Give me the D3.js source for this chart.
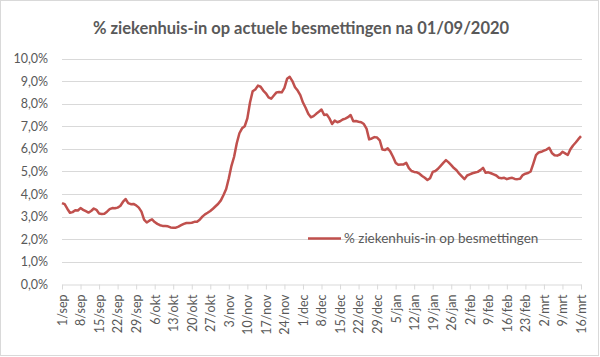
<!DOCTYPE html>
<html>
<head>
<meta charset="utf-8">
<script src="https://cdn.jsdelivr.net/npm/d3@7"></script>
<style>
  html, body { margin: 0; padding: 0; background: #fff; }
  svg { display: block; }
  text { font-family: Lato, "Open Sans", sans-serif; fill: #595959; }
</style>
</head>
<body>
<svg id="chart" width="600" height="357"></svg>
<script>
const title = "% ziekenhuis-in op actuele besmettingen na 01/09/2020";
const seriesName = "% ziekenhuis-in op besmettingen";
const startDate = Date.UTC(2020, 8, 1);
const values = [
  3.60, 3.55, 3.35, 3.17, 3.20, 3.28, 3.27, 3.38, 3.30, 3.24,
  3.18, 3.25, 3.36, 3.30, 3.14, 3.12, 3.13, 3.22, 3.33, 3.38,
  3.37, 3.40, 3.47, 3.65, 3.78, 3.60, 3.55, 3.56, 3.50, 3.40,
  3.22, 2.87, 2.74, 2.82, 2.88, 2.76, 2.68, 2.62, 2.59, 2.58,
  2.57, 2.52, 2.51, 2.51, 2.56, 2.62, 2.68, 2.72, 2.72, 2.73,
  2.77, 2.77, 2.86, 3.00, 3.10, 3.17, 3.25, 3.35, 3.46, 3.57,
  3.72, 3.96, 4.22, 4.70, 5.25, 5.65, 6.25, 6.69, 6.91, 7.00,
  7.35, 8.05, 8.55, 8.63, 8.80, 8.75, 8.58, 8.46, 8.28, 8.22,
  8.36, 8.50, 8.52, 8.50, 8.70, 9.10, 9.19, 9.00, 8.73, 8.58,
  8.38, 8.05, 7.82, 7.55, 7.40, 7.45, 7.55, 7.64, 7.74, 7.50,
  7.52, 7.35, 7.10, 7.25, 7.18, 7.22, 7.30, 7.34, 7.40, 7.50,
  7.22, 7.23, 7.20, 7.18, 7.10, 6.90, 6.42, 6.46, 6.52, 6.50,
  6.38, 5.97, 5.95, 6.02, 5.88, 5.65, 5.38, 5.30, 5.31, 5.31,
  5.38, 5.15, 5.02, 4.98, 4.96, 4.90, 4.80, 4.72, 4.62, 4.70,
  4.98, 5.02, 5.12, 5.25, 5.38, 5.50, 5.40, 5.28, 5.15, 5.05,
  4.90, 4.78, 4.66, 4.82, 4.87, 4.92, 4.95, 4.98, 5.06, 5.16,
  4.94, 4.96, 4.92, 4.87, 4.82, 4.72, 4.70, 4.72, 4.66, 4.70,
  4.72, 4.67, 4.66, 4.68, 4.84, 4.90, 4.93, 5.00, 5.35, 5.72,
  5.84, 5.87, 5.92, 5.97, 6.05, 5.82, 5.72, 5.70, 5.75, 5.87,
  5.80, 5.73, 5.98, 6.15, 6.28, 6.43, 6.56
];
const tickLabels = [
  "1/sep", "8/sep", "15/sep", "22/sep", "29/sep", "6/okt", "13/okt", "20/okt",
  "27/okt", "3/nov", "10/nov", "17/nov", "24/nov", "1/dec", "8/dec", "15/dec",
  "22/dec", "29/dec", "5/jan", "12/jan", "19/jan", "26/jan", "2/feb", "9/feb",
  "16/feb", "23/feb", "2/mrt", "9/mrt", "16/mrt"
];
const yTicks = [0, 1, 2, 3, 4, 5, 6, 7, 8, 9, 10];

const DAY = 86400000;
const data = values.map((v, i) => ({ date: new Date(startDate + i * DAY), value: v }));
const tickDates = tickLabels.map((_, i) => new Date(startDate + i * 7 * DAY));

const svg = d3.select("#chart");
const W = 600, H = 357;
const m = { left: 62, right: 19, top: 58.5, bottom: 72.6 };

svg.append("rect")
  .attr("x", 0.5).attr("y", 0.5).attr("width", W - 2).attr("height", H - 2)
  .attr("fill", "#fff").attr("stroke", "#d9d9d9");

const x = d3.scaleUtc()
  .domain([data[0].date, data[data.length - 1].date])
  .range([m.left, W - m.right]);
const y = d3.scaleLinear().domain([0, 10]).range([H - m.bottom, m.top]);

// gridlines
svg.append("g").selectAll("line").data(yTicks.filter(d => d > 0)).join("line")
  .attr("x1", m.left).attr("x2", W - m.right + 1)
  .attr("y1", d => Math.round(y(d)) + 0.5).attr("y2", d => Math.round(y(d)) + 0.5)
  .attr("stroke", "#d9d9d9").attr("stroke-width", 1);

// y axis labels
const yAxis = svg.append("g")
  .attr("transform", `translate(${m.left},0)`)
  .call(d3.axisLeft(y).tickValues(yTicks).tickSize(0).tickPadding(14)
    .tickFormat(d => d3.format(".1f")(d).replace(".", ",") + "%"));
yAxis.select(".domain").remove();
yAxis.selectAll("text").attr("font-size", 12.5).attr("fill", "#595959")
  .style("font-family", "Lato, sans-serif");

// x axis
const xAxis = svg.append("g")
  .attr("transform", `translate(0,${Math.round(y(0)) + 0.5})`)
  .call(d3.axisBottom(x).tickValues(tickDates).tickSize(5).tickSizeOuter(0)
    .tickFormat((d, i) => tickLabels[i]));
xAxis.select(".domain").attr("stroke", "#d9d9d9");
xAxis.selectAll(".tick line").attr("stroke", "#d9d9d9");
xAxis.selectAll("text")
  .attr("font-size", 12.5).attr("fill", "#595959")
  .style("font-family", "Lato, sans-serif")
  .attr("text-anchor", "end")
  .attr("transform", "rotate(-90)")
  .attr("x", -10).attr("y", 0).attr("dy", "0.35em");

// line
svg.append("path")
  .datum(data)
  .attr("fill", "none")
  .attr("stroke", "#c0504d")
  .attr("stroke-width", 2.5)
  .attr("stroke-linejoin", "round")
  .attr("d", d3.line().x(d => x(d.date)).y(d => y(d.value)));

// title
svg.append("text")
  .attr("x", 301).attr("y", 34)
  .attr("text-anchor", "middle")
  .attr("font-size", 16.5).attr("font-weight", "bold")
  .attr("fill", "#595959")
  .text(title);

// legend
const lg = svg.append("g");
lg.append("line").attr("x1", 308).attr("x2", 341).attr("y1", 238.5).attr("y2", 238.5)
  .attr("stroke", "#c0504d").attr("stroke-width", 2.5);
lg.append("text").attr("x", 344).attr("y", 243)
  .attr("font-size", 13.5).attr("fill", "#595959").text(seriesName);
</script>
</body>
</html>
